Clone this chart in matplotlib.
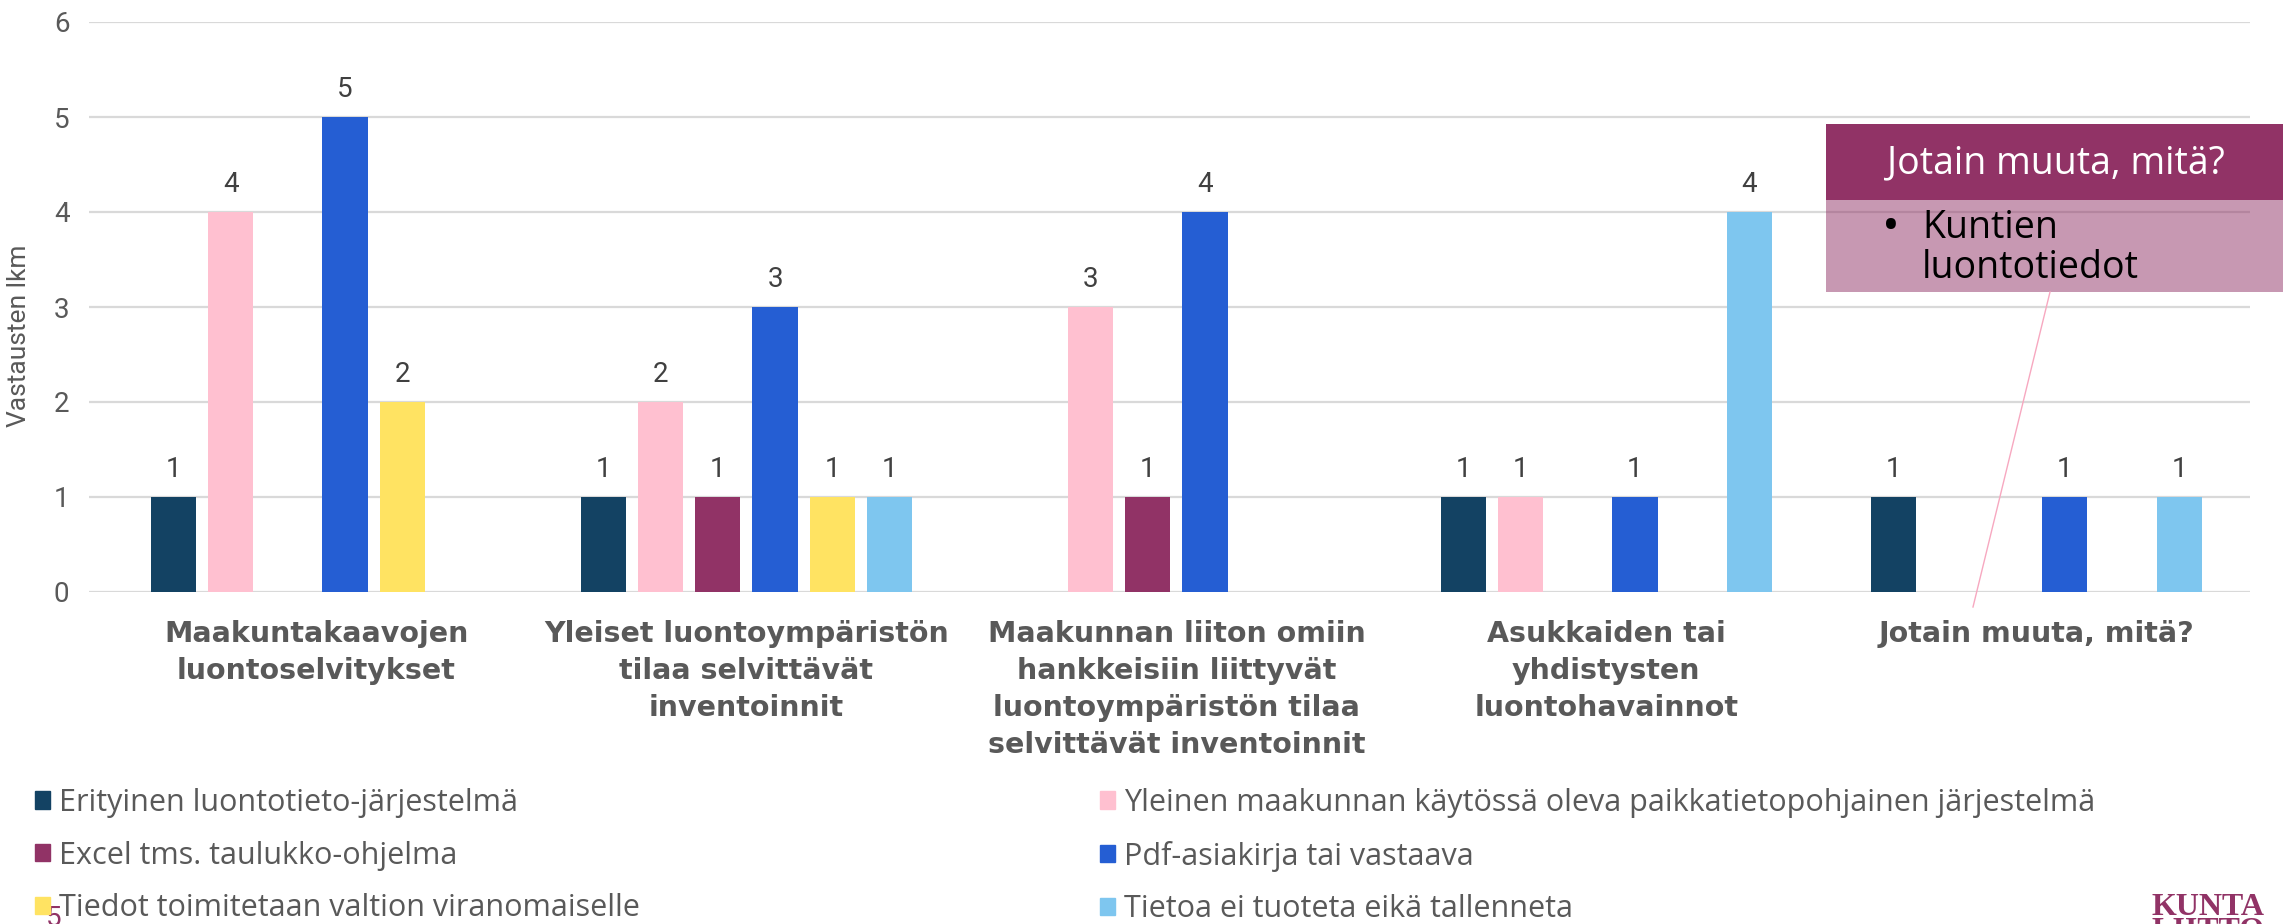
import numpy as np
import matplotlib.pyplot as plt
from matplotlib.patches import Rectangle
from matplotlib.lines import Line2D

# Data
kategoriat = [
    "Maakuntakaavojen\nluontoselvitykset",
    "Yleiset luontoympäristön\ntilaa selvittävät\ninventoinnit",
    "Maakunnan liiton omiin\nhankkeisiin liittyvät\nluontoympäristön tilaa\nselvittävät inventoinnit",
    "Asukkaiden tai\nyhdistysten\nluontohavainnot",
    "Jotain muuta, mitä?",
]
sarjat = [
    "Erityinen luontotieto-järjestelmä",
    "Yleinen maakunnan käytössä oleva paikkatietopohjainen järjestelmä",
    "Excel tms. taulukko-ohjelma",
    "Pdf-asiakirja tai vastaava",
    "Tiedot toimitetaan valtion viranomaiselle",
    "Tietoa ei tuoteta eikä tallenneta",
]
erityinen = [1, 1, 0, 1, 1]
yleinen = [4, 2, 3, 1, 0]
excel = [0, 1, 1, 0, 0]
pdf = [5, 3, 4, 1, 1]
valtio = [2, 1, 0, 0, 0]
ei_tuoteta = [0, 1, 0, 4, 1]
arvot = [erityinen, yleinen, excel, pdf, valtio, ei_tuoteta]
y_ticks = [0, 1, 2, 3, 4, 5, 6]

varit = ["#134263", "#FFC0D0", "#913366", "#255ED3", "#FFE362", "#7EC6EF"]
harmaa = "#595959"

W, H = 2293, 924
fig = plt.figure(figsize=(W / 100, H / 100), dpi=100)


def px(x, y):
    # pikselit -> figure-koordinaatit
    return x / W, 1 - y / H


ax = fig.add_axes([89 / W, 1 - 592 / H, 2161 / W, 570 / H])

x = np.arange(len(kategoriat))
vali = 0.133
leveys = 0.105
for j, (nimi, v) in enumerate(zip(sarjat, arvot)):
    bars = ax.bar(x + (j - 2.5) * vali, v, leveys, color=varit[j], label=nimi, zorder=3)
    ax.bar_label(bars, labels=[str(a) if a else "" for a in v], padding=10,
                 fontsize=20, color="#404040", family="Roboto")

ax.set_xlim(-0.529, 4.497)
ax.set_ylim(0, 6)
ax.set_yticks(y_ticks)
ax.yaxis.grid(True, color="#D9D9D9", lw=1.6, zorder=0)
ax.set_axisbelow(True)
for s in ax.spines.values():
    s.set_visible(False)
ax.tick_params(axis="y", length=0, pad=14, labelsize=20, labelcolor=harmaa)
for t in ax.get_yticklabels():
    t.set_family("Roboto")
ax.set_xticks(x)
ax.set_xticklabels(kategoriat, fontsize=20.5, fontweight="bold", color=harmaa,
                   linespacing=1.42, family="DejaVu Sans")
ax.tick_params(axis="x", length=0, pad=20)
ax.set_ylabel("Vastausten lkm", fontsize=19, color=harmaa, family="Roboto")
ax.yaxis.set_label_coords(-0.027, 0.45)

# Selite kahdessa sarakkeessa
kahvat = [Rectangle((0, 0), 1, 1, color=c) for c in varit]
for cols, xx in [((0, 2, 4), 35), ((1, 3, 5), 1100)]:
    fig.legend([kahvat[i] for i in cols], [sarjat[i] for i in cols],
               loc="upper left", bbox_to_anchor=px(xx, 788), frameon=False,
               labelcolor=harmaa, handlelength=0.5, handleheight=0.5,
               handletextpad=0.3, labelspacing=0.74, borderpad=0, borderaxespad=0,
               prop={"family": "Open Sans", "size": 22})

# Huomiolaatikko
fig.add_artist(Line2D([2050 / W, 1973 / W], [1 - 292 / H, 1 - 607 / H],
                      transform=fig.transFigure, color="#F7A8C0", lw=1))
x0, y0 = px(1826, 200)
fig.add_artist(Rectangle((x0, y0), (2283 - 1826) / W, 76 / H, transform=fig.transFigure,
                         facecolor="#913366", edgecolor="none"))
x1, y1 = px(1826, 292)
fig.add_artist(Rectangle((x1, y1), (2283 - 1826) / W, 92 / H, transform=fig.transFigure,
                         facecolor="#913366", alpha=0.5, edgecolor="none"))
fig.text(*px(2056, 163), "Jotain muuta, mitä?", color="white", fontsize=27,
         family="Open Sans", ha="center", va="center")
fig.text(*px(1882, 228), "•", color="black", fontsize=34, family="Open Sans", ha="left", va="center")
fig.text(*px(1922, 248), "Kuntien\nluontotiedot", color="black", fontsize=27,
         family="Open Sans", ha="left", va="center", linespacing=1.08)

# Sivunumero ja logo
fig.text(*px(46, 905), "5", color="#913366", fontsize=20, family="Roboto", va="top", zorder=0)
fig.text(*px(2152, 893), "KUNTA\nLIITTO", color="#913366", fontsize=23, family="Liberation Serif",
         fontweight="bold", va="top", linespacing=0.78)

fig.savefig("out.png", dpi=100, facecolor="white")
